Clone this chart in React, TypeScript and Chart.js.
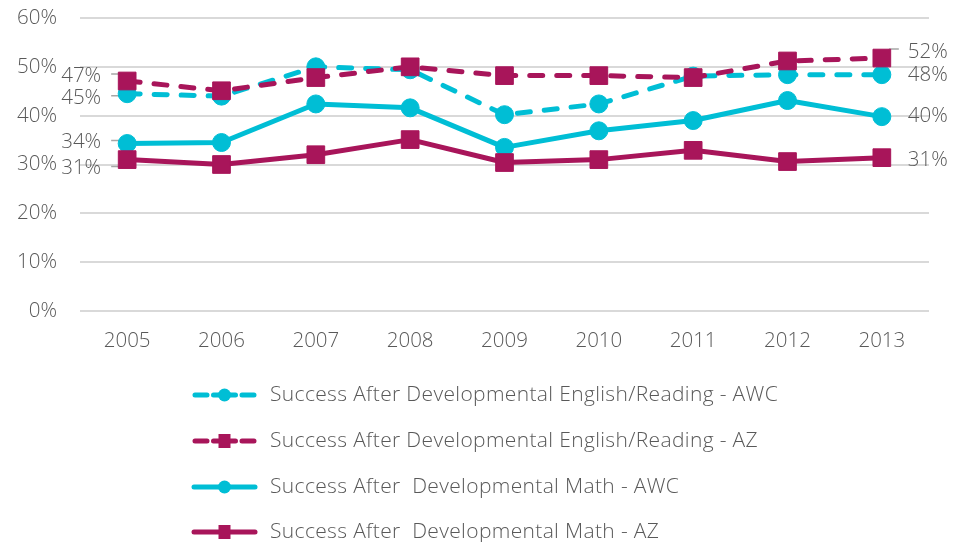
import React, { useEffect, useRef } from "react";
import { Chart, registerables } from "chart.js";

Chart.register(...registerables);

const years = ["2005", "2006", "2007", "2008", "2009", "2010", "2011", "2012", "2013"];
const engAWC = [44.5, 44.0, 50.0, 49.4, 40.2, 42.4, 48.1, 48.4, 48.4];
const engAZ = [47.1, 45.1, 47.8, 50.0, 48.2, 48.2, 47.8, 51.2, 51.8];
const mathAWC = [34.3, 34.5, 42.4, 41.6, 33.5, 36.9, 39.0, 43.1, 39.8];
const mathAZ = [31.0, 30.0, 32.0, 35.1, 30.4, 31.0, 32.9, 30.6, 31.4];
const seriesNames = [
  "Success After Developmental English/Reading - AWC",
  "Success After Developmental English/Reading - AZ",
  "Success After  Developmental Math - AWC",
  "Success After  Developmental Math - AZ",
];
const yMin = 0;
const yMax = 60;
const yStep = 10;

const CYAN = "#00BED5";
const MAGENTA = "#A8155A";
const TEXT = "#595959";
const FONT = '"Open Sans", Lato, sans-serif';
const WEIGHT = 300;
const DASH = [13, 14];

// end labels: dataset index, point index, side
const endLabels = [
  { ds: 1, idx: 0, side: "left", dy: -5, leader: true },
  { ds: 0, idx: 0, side: "left", dy: 4, leader: true },
  { ds: 2, idx: 0, side: "left", dy: -1, leader: true },
  { ds: 3, idx: 0, side: "left", dy: 9, leader: true },
  { ds: 1, idx: 8, side: "right", dy: -6, leader: true },
  { ds: 0, idx: 8, side: "right", dy: 1, leader: false },
  { ds: 2, idx: 8, side: "right", dy: 0, leader: false },
  { ds: 3, idx: 8, side: "right", dy: 2, leader: false },
];

const endLabelPlugin = {
  id: "endLabels",
  beforeDatasetsDraw(chart: any) {
    const ctx = chart.ctx;
    ctx.save();
    ctx.strokeStyle = "#A6A6A6";
    ctx.lineWidth = 1.5;
    endLabels.forEach((l) => {
      if (!l.leader) return;
      const pt = chart.getDatasetMeta(l.ds).data[l.idx];
      const ly = pt.y + l.dy - 2;
      ctx.beginPath();
      if (l.side === "left") {
        ctx.moveTo(pt.x - 16, ly);
        ctx.lineTo(pt.x - 5, ly);
        ctx.lineTo(pt.x, pt.y);
      } else {
        ctx.moveTo(pt.x, pt.y);
        ctx.lineTo(pt.x + 8, ly - 1);
        ctx.lineTo(pt.x + 17, ly - 1);
      }
      ctx.stroke();
    });
    ctx.restore();
  },
  afterDatasetsDraw(chart: any) {
    const ctx = chart.ctx;
    ctx.save();
    ctx.fillStyle = TEXT;
    ctx.font = `${WEIGHT} 20.5px ${FONT}`;
    ctx.textBaseline = "middle";
    endLabels.forEach((l) => {
      const pt = chart.getDatasetMeta(l.ds).data[l.idx];
      const v = chart.data.datasets[l.ds].data[l.idx];
      const txt = Math.round(v) + "%";
      if (l.side === "left") {
        ctx.textAlign = "right";
        ctx.fillText(txt, pt.x - 26, pt.y + l.dy);
      } else {
        ctx.textAlign = "left";
        ctx.fillText(txt, pt.x + 26, pt.y + l.dy);
      }
    });
    ctx.restore();
  },
};

const legendPlugin = {
  id: "customLegend",
  afterDraw(chart: any) {
    const ctx = chart.ctx;
    const rows = [395, 441, 487, 532];
    const x0 = 192;
    const x1 = 257;
    const mx = (x0 + x1) / 2;
    ctx.save();
    chart.data.datasets.forEach((ds: any, i: number) => {
      const y = rows[i];
      ctx.strokeStyle = ds.borderColor;
      ctx.lineWidth = 5;
      ctx.lineCap = "round";
      ctx.setLineDash([]);
      ctx.beginPath();
      if (ds.borderDash && ds.borderDash.length) {
        ctx.moveTo(x0 + 3, y); ctx.lineTo(x0 + 15, y);
        ctx.moveTo(mx - 11, y); ctx.lineTo(mx + 11, y);
        ctx.moveTo(x1 - 15, y); ctx.lineTo(x1 - 3, y);
      } else {
        ctx.moveTo(x0 + 2, y); ctx.lineTo(x1 - 2, y);
      }
      ctx.stroke();
      ctx.fillStyle = ds.backgroundColor;
      ctx.beginPath();
      if (ds.pointStyle === "rect") {
        ctx.rect(mx - 6, y - 7, 12, 14);
      } else {
        ctx.arc(mx, y, 6.5, 0, Math.PI * 2);
      }
      ctx.fill();
      ctx.fillStyle = TEXT;
      ctx.font = `${WEIGHT} 21px ${FONT}`;
      try { (ctx as any).letterSpacing = "0.35px"; } catch (e) {}
      ctx.textAlign = "left";
      ctx.textBaseline = "middle";
      ctx.fillText(ds.label, 270, y);
      try { (ctx as any).letterSpacing = "0px"; } catch (e) {}
    });
    ctx.restore();
  },
};

export default function App() {
  const ref = useRef<HTMLCanvasElement | null>(null);
  useEffect(() => {
    document.body.style.margin = "0";
    const canvas = ref.current;
    if (!canvas) return;
    const mk = (label: string, data: number[], color: string, dashed: boolean, rect: boolean, order: number) => ({
      label,
      data,
      borderColor: color,
      backgroundColor: color,
      borderWidth: 5,
      borderDash: dashed ? DASH : [],
      borderCapStyle: dashed ? "round" : "butt",
      borderJoinStyle: "round",
      pointStyle: rect ? "rect" : "circle",
      pointRadius: rect ? 12.5 : 9,
      pointBorderWidth: 1,
      pointBorderColor: color,
      pointBackgroundColor: color,
      tension: 0,
      order,
      clip: false,
    });
    const chart = new Chart(canvas, {
      type: "line",
      data: {
        labels: years,
        datasets: [
          mk(seriesNames[0], engAWC, CYAN, true, false, 2),
          mk(seriesNames[1], engAZ, MAGENTA, true, true, 0),
          mk(seriesNames[2], mathAWC, CYAN, false, false, 3),
          mk(seriesNames[3], mathAZ, MAGENTA, false, true, 1),
        ] as any,
      },
      options: {
        animation: false,
        responsive: false,
        layout: { autoPadding: false, padding: { top: 18, right: 24, bottom: 188, left: 0 } },
        plugins: { legend: { display: false }, tooltip: { enabled: false } },
        scales: {
          x: {
            offset: true,
            grid: { display: false, drawTicks: false },
            border: { display: false },
            ticks: { color: TEXT, font: { family: FONT, size: 20.5, weight: WEIGHT }, padding: 18 },
            afterFit: (s: any) => { s.height = 43; s.paddingLeft = 0; s.paddingRight = 0; },
          },
          y: {
            min: yMin,
            max: yMax,
            grid: { color: "#D9D9D9", lineWidth: 2, drawTicks: false },
            border: { display: false },
            ticks: {
              stepSize: yStep,
              color: TEXT,
              font: { family: FONT, size: 20.5, weight: WEIGHT },
              padding: 23,
              callback: (v: any) => v + "%",
            },
            afterFit: (s: any) => { s.width = 80; s.paddingTop = 0; s.paddingBottom = 0; },
          },
        },
      } as any,
      plugins: [endLabelPlugin, legendPlugin],
    });
    return () => chart.destroy();
  }, []);
  return (
    <div style={{ width: 953, height: 542, background: "#fff" }}>
      <canvas ref={ref} width={953} height={542} />
    </div>
  );
}
